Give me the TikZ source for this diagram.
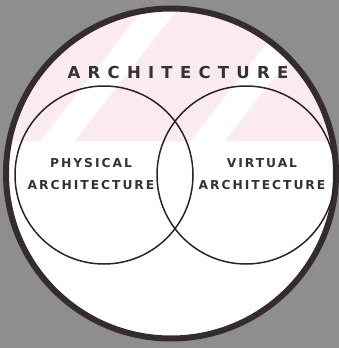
\documentclass[tikz,border=0pt]{standalone}
\usepackage{fontspec}
\newfontfamily\titlefont{DejaVu Sans Bold}[LetterSpace=44]
\newfontfamily\labelfont{DejaVu Sans Bold}[LetterSpace=16]
\definecolor{bggray}{HTML}{8E8E8E}
\definecolor{rimdark}{HTML}{352C30}
\definecolor{pinktint}{HTML}{FCEBEE}
\tikzset{
  setcircle/.style={circle, draw=black!85, line width=1.5pt, inner sep=0pt, minimum size=178pt},
  setlabel/.style={font=\labelfont\fontsize{12.3}{22.5}\selectfont, align=center, text=black!80, inner sep=0pt}
}
\begin{document}
\begin{tikzpicture}[x=1pt, y=-1pt, line join=round, line cap=round]
	\useasboundingbox (0,0) rectangle (339,348);
	\fill[bggray] (0,0) rectangle (339,348);
	\fill[white] (171,173.5) circle (165);
	% faint tinted band across the top
	\begin{scope}
		\clip (171,173.5) circle (165);
		\fill[pinktint, even odd rule] (0,0) rectangle (339,141)
			(150,0) -- (185,0) -- (75,141) -- (40,141) -- cycle
			(300,0) -- (335,0) -- (225,141) -- (190,141) -- cycle;
	\end{scope}
	\node[circle, draw=rimdark, line width=6pt, inner sep=0pt, minimum size=330pt] (arch) at (171,173.5) {};
	\node[setcircle] (phys) at (104,175) {};
	\node[setcircle] (virt) at (246,175) {};
	\node[font=\titlefont\fontsize{16.5}{20}\selectfont, text=black!80, inner sep=0pt] (archlabel) at (178,72) {ARCHITECTURE};
	\node[setlabel] (physlabel) at (91,174) {PHYSICAL\\ARCHITECTURE};
	\node[setlabel] (virtlabel) at (262,174) {VIRTUAL\\ARCHITECTURE};
\end{tikzpicture}
\end{document}
